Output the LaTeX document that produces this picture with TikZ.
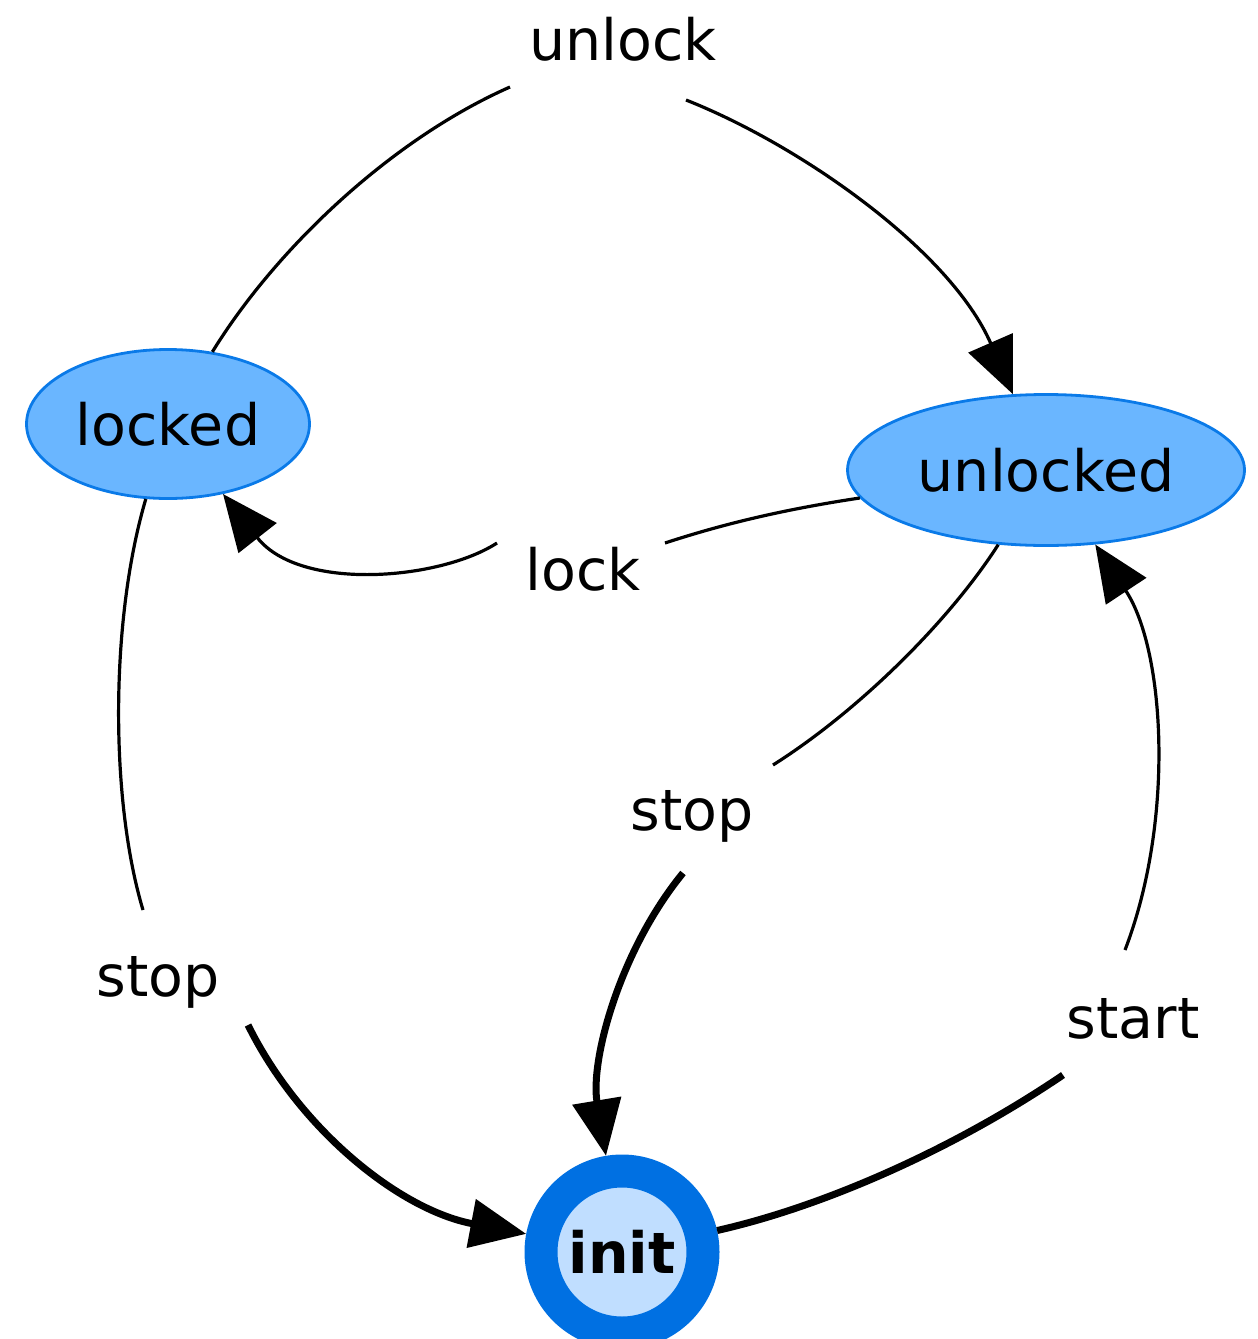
\documentclass[tikz,border=0pt]{standalone}
\usepackage{fontspec}
\setmainfont{DejaVu Sans}
\usetikzlibrary{arrows.meta,shapes.geometric}
\definecolor{statefill}{RGB}{106,182,255}
\definecolor{stateline}{RGB}{10,122,232}
\definecolor{initring}{RGB}{0,112,226}
\definecolor{initfill}{RGB}{192,222,255}

\begin{document}
\begin{tikzpicture}[x=1pt,y=-1pt,
  state/.style={ellipse, draw=stateline, fill=statefill, line width=2.8pt,
    inner sep=0pt, font=\fontsize{57}{60}\selectfont},
  startstate/.style={circle, draw=initring, fill=initfill, line width=33pt,
    minimum size=162pt, inner sep=0pt, font=\bfseries\fontsize{57}{60}\selectfont},
  lbl/.style={anchor=base, inner sep=0pt, font=\fontsize{57}{60}\selectfont},
  thinedge/.style={line width=3.2pt},
  thickedge/.style={line width=7pt},
  tip/.style={-{Triangle[length=56pt,width=48pt]}}
]
\useasboundingbox (0,0) rectangle (1258,1339);

% states
\node[state, minimum width=283pt, minimum height=149pt] (locked) at (168,424) {locked};
\node[state, minimum width=397pt, minimum height=151pt] (unlocked) at (1046,470) {unlocked};
\node[startstate] (init) at (622,1252) {init};

% transition labels
\node[lbl] (unlockLbl) at (623,60) {unlock};
\node[lbl] (lockLbl) at (583,590) {lock};
\node[lbl] (stopLLbl) at (158,996) {stop};
\node[lbl] (stopMLbl) at (692,830) {stop};
\node[lbl] (startLbl) at (1133,1038) {start};

% ends of the edge pieces on either side of each label
\coordinate (unlockA) at (510,87);
\coordinate (unlockB) at (686,100);
\coordinate (lockA) at (665,543);
\coordinate (lockB) at (497,543);
\coordinate (stopLA) at (143,910);
\coordinate (stopLB) at (248,1025);
\coordinate (stopMA) at (773,765);
\coordinate (stopMB) at (683,873);
\coordinate (startA) at (1063,1075);
\coordinate (startB) at (1125,950);

% unlock: locked -> unlocked
\draw[thinedge] (locked) .. controls (275,250) and (390,140) .. (unlockA);
\draw[thinedge,tip] (unlockB) .. controls (800,145) and (950,250) .. (unlocked);

% lock: unlocked -> locked
\draw[thinedge] (unlocked) .. controls (780,510) and (720,525) .. (lockA);
\draw[thinedge,tip] (lockB) .. controls (440,580) and (300,592) .. (locked);

% stop: locked -> init
\draw[thinedge] (locked) .. controls (110,620) and (110,800) .. (stopLA);
\draw[thickedge,tip] (stopLB) .. controls (300,1130) and (400,1210) .. (init);

% stop: unlocked -> init
\draw[thinedge] (unlocked) .. controls (950,620) and (860,710) .. (stopMA);
\draw[thickedge,tip] (stopMB) .. controls (620,950) and (590,1060) .. (init);

% start: init -> unlocked
\draw[thickedge] (init) .. controls (830,1205) and (960,1145) .. (startA);
\draw[thinedge,tip] (startB) .. controls (1175,820) and (1165,650) .. (unlocked);
\end{tikzpicture}
\end{document}
